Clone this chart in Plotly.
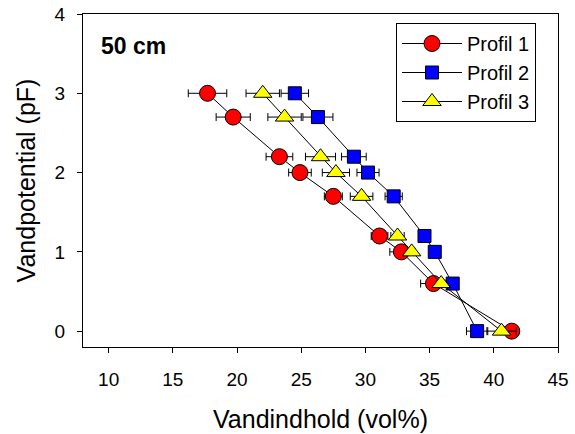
import plotly.graph_objects as go

pf = [3.0, 2.7, 2.2, 2.0, 1.7, 1.2, 1.0, 0.6, 0.0]

p1_x = [17.7, 19.7, 23.3, 24.9, 27.5, 31.1, 32.8, 35.3, 41.4]
p1_err = [1.5, 1.33, 1.04, 0.88, 0.7, 0.65, 0.9, 1.0, 0.5]

p2_x = [24.5, 26.3, 29.1, 30.2, 32.2, 34.6, 35.4, 36.8, 38.7]
p2_err = [1.07, 1.17, 0.96, 0.86, 0.67, 0.3, 0.3, 0.3, 0.83]

p3_x = [22.0, 23.7, 26.5, 27.7, 29.7, 32.5, 33.6, 35.9, 40.6]
p3_err = [1.3, 1.3, 1.17, 1.06, 0.88, 0.52, 0.3, 0.3, 1.14]

names = ["Profil 1", "Profil 2", "Profil 3"]
xs = [p1_x, p2_x, p3_x]
errs = [p1_err, p2_err, p3_err]
symbols = ["circle", "square", "triangle-up"]
colors = ["#ff0000", "#0000ff", "#ffff00"]
sizes = [16, 13, 16]

x_ticks = [10, 15, 20, 25, 30, 35, 40, 45]
y_ticks = [0, 1, 2, 3, 4]

FONT = "Liberation Sans, Arial, sans-serif"

fig = go.Figure()
for name, x, e, sym, c, s in zip(names, xs, errs, symbols, colors, sizes):
    fig.add_trace(go.Scatter(
        x=x, y=pf, name=name, mode="lines+markers",
        line=dict(color="black", width=1),
        marker=dict(symbol=sym, color=c, size=s, line=dict(color="black", width=1)),
        error_x=dict(type="data", array=e, visible=True, color="black", thickness=1, width=4),
    ))

fig.update_layout(
    width=575, height=434,
    margin=dict(l=83, r=17, t=14, b=87),
    paper_bgcolor="white", plot_bgcolor="white",
    font=dict(family=FONT, color="black", size=19),
    showlegend=True,
    legend=dict(
        x=(396 - 83) / 475, y=(347 - 23) / 333, xanchor="left", yanchor="top",
        bgcolor="white", bordercolor="black", borderwidth=1,
        font=dict(family=FONT, size=20, color="black"),
        itemwidth=60,
    ),
    annotations=[dict(
        x=(99 - 83) / 475, y=(347 - 46) / 333, xref="paper", yref="paper",
        text="<b>50 cm</b>",
        showarrow=False, xanchor="left", yanchor="middle",
        font=dict(family=FONT, size=23, color="black"),
    )],
)

fig.update_xaxes(
    range=[8, 45], tickvals=x_ticks, ticks="outside", ticklen=5, tickcolor="black",
    showline=True, linecolor="black", linewidth=1, mirror=True,
    showgrid=False, zeroline=False, automargin=False,
    tickfont=dict(family=FONT, size=19), ticklabelstandoff=10,
    title=dict(text="Vandindhold (vol%)", font=dict(family=FONT, size=25), standoff=21),
)
fig.update_yaxes(
    range=[-0.2, 4], tickvals=y_ticks, ticks="outside", ticklen=5, tickcolor="black",
    showline=True, linecolor="black", linewidth=1, mirror=True,
    showgrid=False, zeroline=False, automargin=False,
    tickfont=dict(family=FONT, size=19), ticklabelstandoff=8,
    title=dict(text="Vandpotential (pF)", font=dict(family=FONT, size=25), standoff=11),
)

fig.write_html("out.html")
